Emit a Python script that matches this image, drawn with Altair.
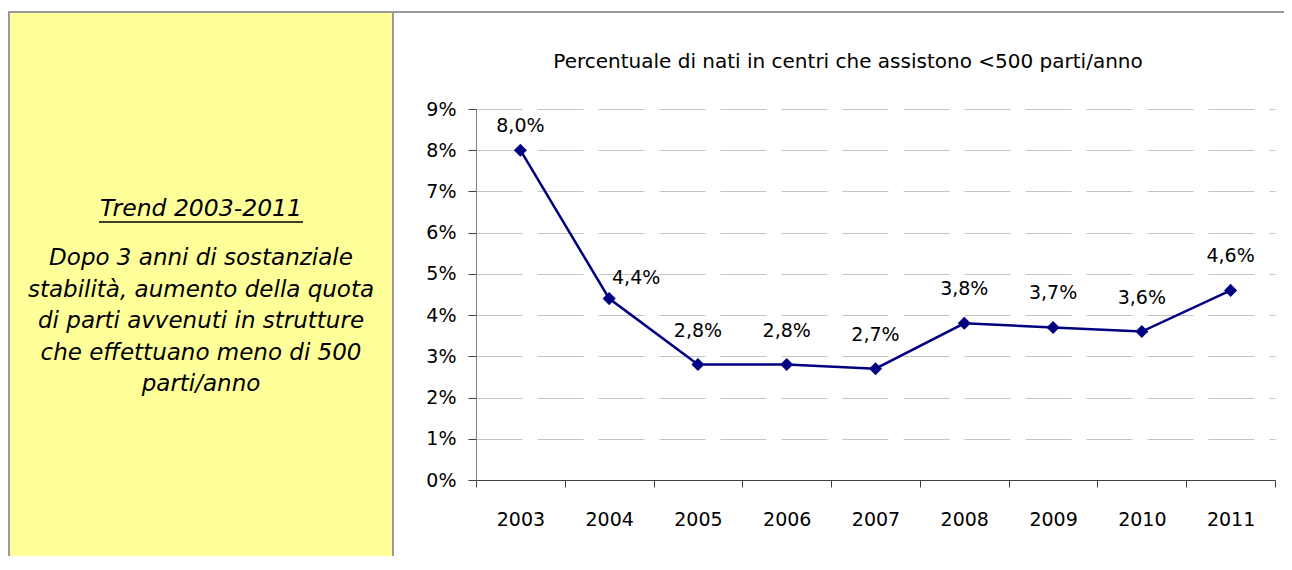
import altair as alt
import pandas as pd

# ---- data ----
years = [2003, 2004, 2005, 2006, 2007, 2008, 2009, 2010, 2011]
share_pct = [8.0, 4.4, 2.8, 2.8, 2.7, 3.8, 3.7, 3.6, 4.6]
y_ticks_pct = [0, 1, 2, 3, 4, 5, 6, 7, 8, 9]
chart_title = "Percentuale di nati in centri che assistono <500 parti/anno"
panel_heading = "Trend 2003-2011"
panel_lines = [
    "Dopo 3 anni di sostanziale",
    "stabilità, aumento della quota",
    "di parti avvenuti in strutture",
    "che effettuano meno di 500",
    "parti/anno",
]

df = pd.DataFrame({"anno": years, "quota": [v / 100 for v in share_pct]})

W, H = 799, 371
CHART_FONT = "Comic Sans MS, DejaVu Sans"
PANEL_FONT = "Verdana, DejaVu Sans"
NAVY = "#000080"

x_tick_vals = sorted([y - 0.5 for y in years] + [years[-1] + 0.5] + years)

x_enc = alt.X(
    "anno:Q",
    scale=alt.Scale(domain=[years[0] - 0.5, years[-1] + 0.5], nice=False, zero=False),
    axis=alt.Axis(
        values=x_tick_vals,
        labelExpr="datum.value % 1 == 0 ? toString(datum.value) : ''",
        tickOpacity={"condition": {"test": "datum.value % 1 != 0", "value": 1}, "value": 0},
        labelOverlap=False,
        labelFlush=False,
        grid=False,
        title=None,
        tickSize=7,
        tickColor="#404040",
        domainColor="#404040",
        labelPadding=23,
        labelFontSize=19,
        labelFont=CHART_FONT,
        labelColor="black",
    ),
)
y_enc = alt.Y(
    "quota:Q",
    scale=alt.Scale(domain=[0, 0.09], nice=False),
    axis=alt.Axis(
        values=[v / 100 for v in y_ticks_pct],
        format=".0%",
        grid=True,
        gridDash=[46, 15],
        gridColor="#c4c4c4",
        gridWidth=1,
        tickSize=8,
        tickColor="#404040",
        domainColor="#808080",
        labelPadding=12,
        labelFontSize=19,
        labelFont=CHART_FONT,
        labelColor="black",
        title=None,
    ),
)

base = alt.Chart(df)
line = base.mark_line(color=NAVY, strokeWidth=2.5).encode(x=x_enc, y=y_enc)
points = base.mark_point(shape="diamond", filled=True, size=170, color=NAVY, opacity=1).encode(
    x="anno:Q", y="quota:Q"
)
lab_base = base.transform_calculate(
    lab="replace(format(datum.quota, '.1%'), '.', ',')"
)
lab_text = dict(fontSize=19, font=CHART_FONT, color="black", baseline="middle", align="center")
labels_main = lab_base.transform_filter("datum.anno >= 2005").mark_text(dy=-34, **lab_text).encode(
    x="anno:Q", y="quota:Q", text="lab:N"
)
labels_2003 = lab_base.transform_filter("datum.anno == 2003").mark_text(dy=-24, **lab_text).encode(
    x="anno:Q", y="quota:Q", text="lab:N"
)
labels_2004 = lab_base.transform_filter("datum.anno == 2004").mark_text(dx=27, dy=-21, **lab_text).encode(
    x="anno:Q", y="quota:Q", text="lab:N"
)

one = alt.Data(values=[{"k": 1}])
panel = alt.Chart(one).mark_rect(color="#FFFF99").encode(
    x=alt.value(-466), x2=alt.value(-84), y=alt.value(-96), y2=alt.value(470)
)
frame_top = alt.Chart(one).mark_rule(color="#9a9a9a", strokeWidth=2).encode(
    x=alt.value(-468), x2=alt.value(830), y=alt.value(-97)
)
frame_left = alt.Chart(one).mark_rule(color="#9a9a9a", strokeWidth=2).encode(
    x=alt.value(-467), y=alt.value(-97), y2=alt.value(470)
)
frame_div = alt.Chart(one).mark_rule(color="#9a9a9a", strokeWidth=2).encode(
    x=alt.value(-83), y=alt.value(-97), y2=alt.value(470)
)
heading = alt.Chart(one).mark_text(
    fontSize=23.5, font=PANEL_FONT, fontStyle="italic", align="center", baseline="middle", color="black"
).encode(x=alt.value(-275), y=alt.value(100), text=alt.value(panel_heading))
underline = alt.Chart(one).mark_rule(color="black", strokeWidth=1.5).encode(
    x=alt.value(-377), x2=alt.value(-173), y=alt.value(113)
)
body = alt.Chart(one).mark_text(
    fontSize=23, font=PANEL_FONT, fontStyle="italic", align="center", baseline="middle",
    color="black", lineHeight=31.5
).encode(x=alt.value(-275), y=alt.value(149), text=alt.value(panel_lines))
title = alt.Chart(one).mark_text(
    fontSize=20, font=CHART_FONT, align="center", baseline="middle", color="black"
).encode(x=alt.value(372), y=alt.value(-47), text=alt.value(chart_title))

chart = alt.layer(
    panel, frame_top, frame_left, frame_div, heading, underline, body, title,
    line, points, labels_main, labels_2003, labels_2004,
).properties(
    width=W,
    height=H,
    autosize=alt.AutoSizeParams(type="none"),
    padding={"left": 468, "top": 101, "right": 9, "bottom": 76},
    background="white",
).configure_view(strokeOpacity=0)

chart.save("out.html", embed_options={"renderer": "svg", "actions": False})
